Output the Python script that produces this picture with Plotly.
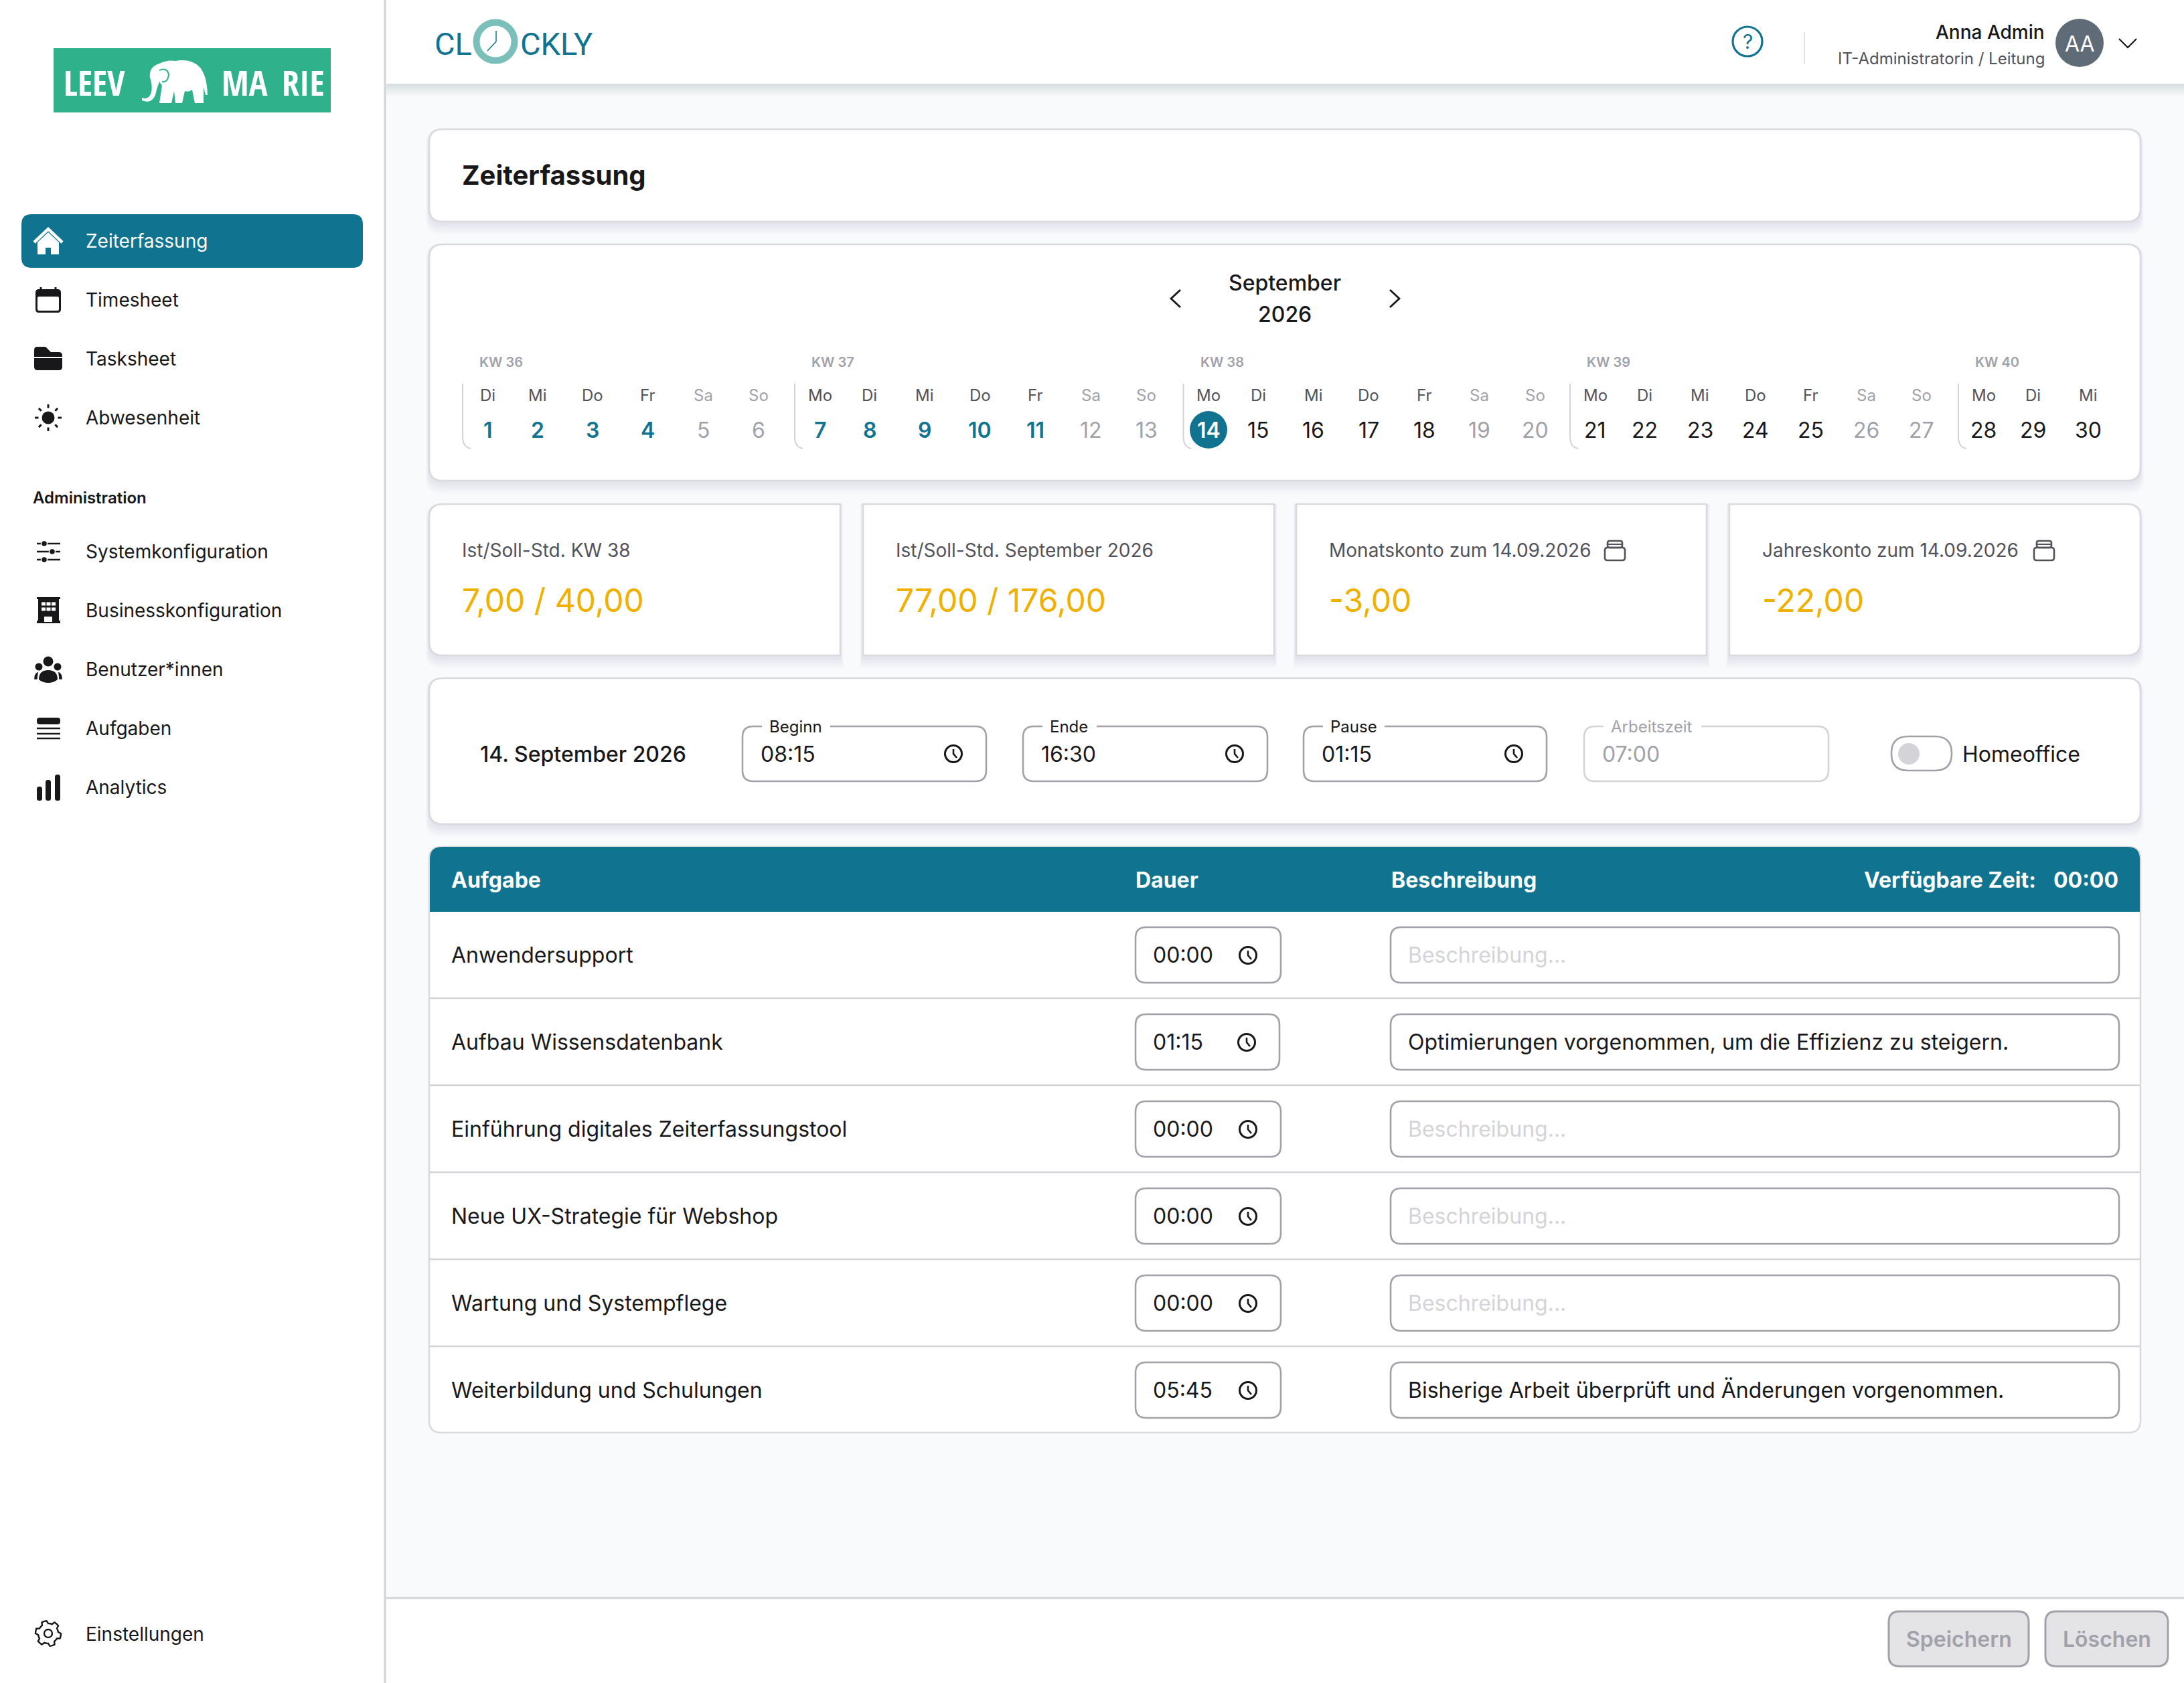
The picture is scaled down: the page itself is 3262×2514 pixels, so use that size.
import math
import plotly.graph_objects as go

# ---------- content ----------
NAV_MAIN = ["Zeiterfassung", "Timesheet", "Tasksheet", "Abwesenheit"]
NAV_SECTION = "Administration"
NAV_ADMIN = ["Systemkonfiguration", "Businesskonfiguration", "Benutzer*innen", "Aufgaben", "Analytics"]
NAV_FOOT = "Einstellungen"
USER_NAME = "Anna Admin"
USER_ROLE = "IT-Administratorin / Leitung"
USER_INITIALS = "AA"
PAGE_TITLE = "Zeiterfassung"
MONTH = "September"
YEAR = "2026"
KW_LABELS = ["KW 36", "KW 37", "KW 38", "KW 39", "KW 40"]
WEEK_DAYS = [
    ["Di", "Mi", "Do", "Fr", "Sa", "So"],
    ["Mo", "Di", "Mi", "Do", "Fr", "Sa", "So"],
    ["Mo", "Di", "Mi", "Do", "Fr", "Sa", "So"],
    ["Mo", "Di", "Mi", "Do", "Fr", "Sa", "So"],
    ["Mo", "Di", "Mi"],
]
WEEK_DATES = [
    [1, 2, 3, 4, 5, 6],
    [7, 8, 9, 10, 11, 12, 13],
    [14, 15, 16, 17, 18, 19, 20],
    [21, 22, 23, 24, 25, 26, 27],
    [28, 29, 30],
]
SELECTED_DAY = 14
STAT_LABELS = ["Ist/Soll-Std. KW 38", "Ist/Soll-Std. September 2026", "Monatskonto zum 14.09.2026", "Jahreskonto zum 14.09.2026"]
STAT_VALUES = ["7,00 / 40,00", "77,00 / 176,00", "-3,00", "-22,00"]
ENTRY_DATE = "14. September 2026"
FIELD_LABELS = ["Beginn", "Ende", "Pause", "Arbeitszeit"]
FIELD_VALUES = ["08:15", "16:30", "01:15", "07:00"]
TOGGLE_LABEL = "Homeoffice"
TABLE_HEADERS = ["Aufgabe", "Dauer", "Beschreibung"]
AVAILABLE_LABEL = "Verfügbare Zeit:"
AVAILABLE_VALUE = "00:00"
TASKS = ["Anwendersupport", "Aufbau Wissensdatenbank", "Einführung digitales Zeiterfassungstool",
         "Neue UX-Strategie für Webshop", "Wartung und Systempflege", "Weiterbildung und Schulungen"]
DURATIONS = ["00:00", "01:15", "00:00", "00:00", "00:00", "05:45"]
DESCRIPTIONS = ["", "Optimierungen vorgenommen, um die Effizienz zu steigern.", "", "", "",
                "Bisherige Arbeit überprüft und Änderungen vorgenommen."]
PLACEHOLDER = "Beschreibung..."
BUTTONS = ["Speichern", "Löschen"]
LOGO_WORDS = ["LEEV", "MA", "RIE"]
BRAND_PARTS = ["CL", "CKLY"]

# ---------- palette ----------
TEAL = "#107491"
INK = "#18181b"
GREY = "#52525b"
MUTED = "#a1a1aa"
LINE = "#d4d4d8"
AMBER = "#f0b000"
BG = "#f9fafb"
W, H = 3262, 2514
FONT = "Inter"

shapes, notes = [], []


def rr(x0, y0, x1, y1, r=0):
    tl, tr, br, bl = r if isinstance(r, tuple) else (r, r, r, r)
    return (f"M{x0+tl},{y0} L{x1-tr},{y0} Q{x1},{y0} {x1},{y0+tr} L{x1},{y1-br} Q{x1},{y1} {x1-br},{y1} "
            f"L{x0+bl},{y1} Q{x0},{y1} {x0},{y1-bl} L{x0},{y0+tl} Q{x0},{y0} {x0+tl},{y0} Z")


def P(path, fill=None, line=None, w=0):
    d = dict(type="path", path=path, xref="x", yref="y", layer="below",
             line=dict(color=line or "rgba(0,0,0,0)", width=w if line else 0))
    if fill:
        d["fillcolor"] = fill
    shapes.append(d)


def circ(cx, cy, r, fill=None, line=None, w=0):
    shapes.append(dict(type="circle", xref="x", yref="y", layer="below", x0=cx-r, x1=cx+r, y0=cy-r, y1=cy+r,
                       fillcolor=fill or "rgba(0,0,0,0)",
                       line=dict(color=line or "rgba(0,0,0,0)", width=w if line else 0)))


def T(x, y, s, size, color=INK, anchor="left", weight=400, family=FONT):
    notes.append(dict(x=x, y=y, text=s, xref="x", yref="y", showarrow=False, xanchor=anchor, yanchor="middle",
                      align=anchor, font=dict(family=family, size=size, color=color, weight=weight),
                      borderpad=0, borderwidth=0))


def card(x0, y0, x1, y1, r=20):
    for i in range(8, 0, -1):
        P(rr(x0-i*0.6, y0, x1+i*0.6, y1+i*2.4, r), fill="rgba(30,35,50,0.012)")
    P(rr(x0, y0, x1, y1, r), fill="#ffffff", line="#d9d9de", w=2.5)


def clock(cx, cy, col=INK):
    circ(cx, cy, 12.5, line=col, w=3)
    P(f"M{cx},{cy-7} L{cx},{cy} L{cx+5},{cy+6}", line=col, w=2.6)


def archive(cx, cy, col=GREY):
    P(rr(cx-15, cy-4, cx+15, cy+15, 4), line=col, w=2.6)
    P(rr(cx-11, cy-14, cx+11, cy-4, 3), line=col, w=2.6)
    P(f"M{cx-11},{cy-9} L{cx+11},{cy-9}", line=col, w=2)


# ---------- page frame ----------
P(rr(0, 0, 575, H), fill="#ffffff")
P(f"M575,0 L575,{H}", line=LINE, w=3)
for i in range(8, 0, -1):
    P(rr(577, 126, W, 126+i*2.2), fill="rgba(30,35,50,0.016)")
P(rr(577, 0, W, 126), fill="#ffffff")
P(f"M577,126 L{W},126", line="#dcdce0", w=2)
P(rr(577, 2387, W, H), fill="#ffffff")
P(f"M577,2387 L{W},2387", line=LINE, w=3)

# ---------- sidebar logo ----------
P(rr(80, 72, 494, 168), fill="#2fb28b")
for word, x in zip(LOGO_WORDS, [95, 331, 421]):
    T(x, 122, word, 52, "#ffffff", weight=700, family="Open Sans Condensed")
P("M212,146 Q222,150 226,138 Q228,126 224,116 Q222,100 238,95 Q250,89 262,91 Q285,87 298,100 Q309,112 310,142 "
  "L307,142 L304,130 L304,154 L291,154 L287,134 Q282,138 276,136 L272,154 L262,154 L260,136 L256,154 L238,154 "
  "L242,128 L238,122 Q234,132 232,142 Q226,156 212,150 Z", fill="#ffffff")
P("M238,105 Q250,100 252,112 Q250,124 242,122", line="#2fb28b", w=2)

# ---------- sidebar navigation ----------
P(rr(32, 320, 542, 400, 15), fill=TEAL)
for label, y, col in zip(NAV_MAIN, [360, 448, 536, 624], ["#ffffff", INK, INK, INK]):
    T(128, y, label, 28, col)
T(48.5, 743, NAV_SECTION, 24, INK, weight=600)
for label, y in zip(NAV_ADMIN, [824, 912, 1000, 1088, 1176]):
    T(128, y, label, 28, INK)
T(128, 2441, NAV_FOOT, 28, INK)

# home
P("M51,362 L72,342 L93,362", line="#ffffff", w=4.5)
P("M56,362 L72,347 L88,362 L88,380 L76,380 L76,370 L68,370 L68,380 L56,380 Z", fill="#ffffff")
# calendar
P(rr(53, 432, 91, 467, 5), fill=INK)
P(rr(56, 443, 88, 464, 2), fill="#ffffff")
P("M61,429 L61,435 M83,429 L83,435", line=INK, w=3)
# folder
P("M51,523 Q51,518 56,518 L68,518 L76,526 L88,526 Q93,526 93,531 L93,548 Q93,553 88,553 L56,553 Q51,553 51,548 Z", fill=INK)
P("M51,534 L93,534", line="#ffffff", w=2)
# sun
circ(72, 624, 9.5, fill=INK)
for k in range(8):
    a = k*math.pi/4
    P(f"M{72+14.5*math.cos(a):.1f},{624+14.5*math.sin(a):.1f} L{72+20*math.cos(a):.1f},{624+20*math.sin(a):.1f}", line=INK, w=3)
# sliders
for y, kx in [(812, 66), (824, 78), (836, 66)]:
    P(f"M55,{y} L90,{y}", line=INK, w=2.6)
    circ(kx, y, 4.5, fill=INK, line="#ffffff", w=1.5)
# building
P("M55,892 L90,892 L90,895 L88,895 L88,927 L90,927 L90,931 L55,931 L55,927 L57,927 L57,895 L55,895 Z", fill=INK)
for wx in (65, 72.5, 80):
    for wy in (902, 910):
        P(rr(wx-3, wy-2.5, wx+3, wy+2.5), fill="#ffffff")
P(rr(66, 921, 78, 929), fill="#ffffff")
# users
circ(72, 988, 7.5, fill=INK)
circ(58, 996, 5.5, fill=INK)
circ(86, 996, 5.5, fill=INK)
P("M58,1015 Q58,1001 72,1001 Q86,1001 86,1015 Q80,1020 72,1020 Q64,1020 58,1015 Z", fill=INK)
P("M52,1014 Q52,1007 56,1005 L55,1014 Z M92,1014 Q92,1007 88,1005 L89,1014 Z", fill=INK, line=INK, w=1.5)
# tasks
P(rr(55, 1072, 90, 1082, 4), fill=INK)
for y in (1088, 1096, 1103):
    P(f"M55,{y} L90,{y}", line=INK, w=2.6)
# bars
for x0, top in [(55, 1175), (68, 1165), (82, 1157)]:
    P(rr(x0, top, x0+8, 1196, 3.5), fill=INK)
# gear
pts = []
for k in range(48):
    a = k*2*math.pi/48
    tooth = (k % 8) in (0, 1, 2, 3)
    rad = 19 if tooth else 15
    pts.append(f"{72+rad*math.cos(a):.1f},{2440+rad*math.sin(a):.1f}")
P("M" + " L".join(pts) + " Z", line=INK, w=2.4)
circ(72, 2440, 6, line=INK, w=2.4)

# ---------- top bar ----------
T(649, 65, BRAND_PARTS[0], 47, TEAL, family="Roboto")
circ(740, 62, 28.5, line="#7bbfbb", w=10)
P("M741,46 L741,62 L728,76", line=TEAL, w=1.5)
T(777, 65, BRAND_PARTS[1], 47, TEAL, family="Roboto")
circ(2610, 62, 22, line=TEAL, w=3.2)
T(2610, 62, "?", 30, TEAL, anchor="center")
P("M2695,48 L2695,96", line="#e4e4e7", w=2)
T(3054, 47.5, USER_NAME, 28, INK, anchor="right", weight=500)
T(3054, 87.5, USER_ROLE, 24, GREY, anchor="right")
circ(3106, 64, 36, fill="#5f6b76")
T(3106, 65, USER_INITIALS, 32, "#ffffff", anchor="center")
P("M3165,58 L3178,71 L3191,58", line=INK, w=2.2)

# ---------- title card ----------
card(641, 193, 3197, 331)
T(690, 261.5, PAGE_TITLE, 40, INK, weight=700)

# ---------- calendar ----------
card(641, 365, 3197, 718)
T(1919, 422, MONTH, 32, INK, anchor="center", weight=500)
T(1919, 469, YEAR, 32, INK, anchor="center", weight=500)
P("M1763,433 L1749,446 L1763,459", line=INK, w=2.8)
P("M2076,433 L2090,446 L2076,459", line=INK, w=2.8)
for kw, days, dates, lx in zip(KW_LABELS, WEEK_DAYS, WEEK_DATES, [691, 1187, 1767.5, 2345, 2925]):
    T(lx+25, 541, kw, 20, MUTED, weight=600)
    P(f"M{lx},573 L{lx},652 Q{lx},668 {lx+12},670", line=LINE, w=2)
    for i, (wd, d) in enumerate(zip(days, dates)):
        cx = lx + 37.5 + (74 + 82.7*(i-1) if i else 0)
        weekend = wd in ("Sa", "So")
        T(cx, 590, wd, 24, MUTED if weekend else GREY, anchor="center")
        if d == SELECTED_DAY:
            circ(cx, 642, 28, fill=TEAL)
            T(cx, 642, str(d), 32, "#ffffff", anchor="center", weight=600)
        elif weekend:
            T(cx, 642, str(d), 32, MUTED, anchor="center")
        elif d < SELECTED_DAY:
            T(cx, 642, str(d), 32, TEAL, anchor="center", weight=600)
        else:
            T(cx, 642, str(d), 32, INK, anchor="center")

# ---------- stat cards ----------
stat_boxes = [(641, 1255, (20, 0, 0, 20)), (1289, 1903, 0), (1936, 2549, 0), (2583, 3197, (0, 20, 20, 0))]
for (x0, x1, r), label, val in zip(stat_boxes, STAT_LABELS, STAT_VALUES):
    card(x0, 753, x1, 979, r)
    T(x0+49, 822, label, 28, GREY)
    T(x0+49, 896, val, 48, AMBER)
archive(2412, 822)
archive(3053, 822)

# ---------- day entry ----------
card(641, 1013, 3197, 1231)
T(717, 1126.5, ENTRY_DATE, 32, INK, weight=500)
field_boxes = [(1109, 1473), (1528, 1893), (1947, 2310), (2366, 2731)]
gap_widths = [102, 81, 92, 146]
for n, ((x0, x1), gap, lab, val) in enumerate(zip(field_boxes, gap_widths, FIELD_LABELS, FIELD_VALUES)):
    off = n == 3
    P(rr(x0, 1085, x1, 1167, 16), fill="#ffffff", line=LINE if off else MUTED, w=2.6)
    P(rr(x0+29, 1080, x0+29+gap, 1090), fill="#ffffff")
    T(x0+40, 1085.5, lab, 24, MUTED if off else INK)
    T(x0+26.5, 1126.5, val, 32, MUTED if off else INK)
    if not off:
        clock(x1-49, 1126)
P(rr(2825, 1100, 2915, 1151, 25), fill="#ffffff", line=MUTED, w=2.6)
circ(2851, 1126, 16, fill=LINE)
T(2931, 1126.5, TOGGLE_LABEL, 32, INK)

# ---------- task table ----------
P(rr(641, 1265, 3197, 2140, 18), fill="#ffffff", line="#d9d9de", w=2.5)
P(rr(642, 1265, 3196, 1362, (18, 18, 0, 0)), fill=TEAL)
for x, h in zip([674, 1695.5, 2078], TABLE_HEADERS):
    T(x, 1314, h, 32, "#ffffff", weight=700)
T(3041, 1314, AVAILABLE_LABEL, 32, "#ffffff", anchor="right", weight=700)
T(3164, 1314, AVAILABLE_VALUE, 32, "#ffffff", anchor="right", weight=700)
for i, (task, dur, desc) in enumerate(zip(TASKS, DURATIONS, DESCRIPTIONS)):
    cy = 1427 + 130*i
    if i:
        P(f"M642,{cy-66} L3196,{cy-66}", line=LINE, w=2.4)
    T(674, cy-1, task, 32, INK)
    narrow = 2 if dur == "01:15" else 0
    P(rr(1696, cy-42, 1913-narrow, cy+41, 16), fill="#ffffff", line=MUTED, w=2.6)
    T(1722, cy-1, dur, 32, INK)
    clock(1864-narrow, cy)
    P(rr(2077, cy-42, 3165, cy+41, 16), fill="#ffffff", line=MUTED, w=2.6)
    T(2103, cy-1, desc or PLACEHOLDER, 32, INK if desc else LINE)

# ---------- footer buttons ----------
for (x0, x1), label in zip([(2821, 3030), (3055, 3238)], BUTTONS):
    P(rr(x0, 2407, x1, 2489, 16), fill="#e4e4e7", line=MUTED, w=3)
    T((x0+x1)/2, 2448, label, 32, MUTED, anchor="center", weight=600)

fig = go.Figure()
fig.update_layout(
    width=W, height=H, margin=dict(l=0, r=0, t=0, b=0), paper_bgcolor=BG, plot_bgcolor=BG, showlegend=False,
    xaxis=dict(range=[0, W], visible=False, fixedrange=True),
    yaxis=dict(range=[H, 0], visible=False, fixedrange=True),
    shapes=shapes, annotations=notes,
)
fig.write_html("out.html", config=dict(displayModeBar=False),
               post_script="document.body.style.margin='0';document.body.style.overflow='hidden';")
